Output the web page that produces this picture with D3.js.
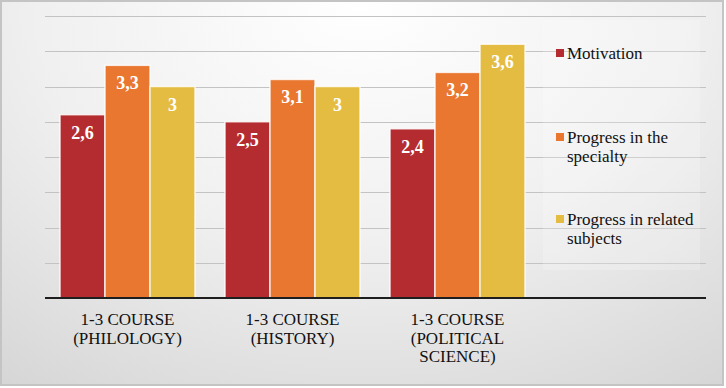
<!DOCTYPE html>
<html>
<head>
<meta charset="utf-8">
<script src="https://cdn.jsdelivr.net/npm/d3@7"></script>
<style>
  html, body { margin: 0; padding: 0; background: #fff; }
  svg { display: block; }
</style>
</head>
<body>
<div class="BarChart"></div>
<script>
// chart data
const categories = [
  ["1-3 COURSE", "(PHILOLOGY)"],
  ["1-3 COURSE", "(HISTORY)"],
  ["1-3 COURSE", "(POLITICAL", "SCIENCE)"]
];
const seriesNames = ["Motivation", "Progress in the specialty", "Progress in related subjects"];
const legendLines = [["Motivation"], ["Progress in the", "specialty"], ["Progress in related", "subjects"]];
const motivation = [2.6, 2.5, 2.4];
const specialty = [3.3, 3.1, 3.2];
const related = [3.0, 3.0, 3.6];
const valueLabels = [["2,6", "2,5", "2,4"], ["3,3", "3,1", "3,2"], ["3", "3", "3,6"]];
const gridTicks = [0.5, 1, 1.5, 2, 2.5, 3, 3.5, 4];
const colors = ["#b52c30", "#e9772f", "#e5bc42"];

const serif = "'Liberation Serif', 'Times New Roman', Times, 'DejaVu Serif', serif";

function setupSvg() {
  const width = 726, height = 388;
  const svg = d3.select(".BarChart")
    .append("svg")
    .attr("width", width)
    .attr("height", height)
    .attr("font-family", serif);

  const defs = svg.append("defs");
  const grad = defs.append("radialGradient")
    .attr("id", "bg")
    .attr("cx", "50%").attr("cy", "0%")
    .attr("r", "90%")
    .attr("gradientTransform", "translate(0.5,0) scale(1,1.4) translate(-0.5,0)");
  grad.append("stop").attr("offset", "0%").attr("stop-color", "#ffffff");
  grad.append("stop").attr("offset", "50%").attr("stop-color", "#f0f0f0");
  grad.append("stop").attr("offset", "100%").attr("stop-color", "#d4d4d4");

  svg.append("rect")
    .attr("x", 1).attr("y", 1)
    .attr("width", 722).attr("height", 384)
    .attr("fill", "url(#bg)")
    .attr("stroke", "#c4c4c4")
    .attr("stroke-width", 2);

  return { svg, width, height };
}

function setupScales() {
  const plot = { left: 45, right: 706, top: 16, bottom: 298 };
  const x0 = d3.scaleBand()
    .domain(d3.range(categories.length))
    .range([plot.left, plot.left + 165 * 3])
    .paddingInner(30 / 165)
    .paddingOuter(15 / 165);
  const x1 = d3.scaleBand()
    .domain(d3.range(seriesNames.length))
    .range([0, x0.bandwidth()]);
  const y = d3.scaleLinear()
    .domain([0, 4])
    .range([plot.bottom, plot.top]);
  return { plot, x0, x1, y };
}

function drawGrid(svg, plot, y) {
  svg.append("g")
    .selectAll("line")
    .data(gridTicks)
    .join("line")
    .attr("x1", plot.left).attr("x2", plot.right)
    .attr("y1", d => Math.round(y(d)) + 0.5)
    .attr("y2", d => Math.round(y(d)) + 0.5)
    .attr("stroke", "#c3c3c3")
    .attr("stroke-width", 1.2);
}

function drawLegendBox(svg) {
  svg.append("rect")
    .attr("x", 543).attr("y", 20)
    .attr("width", 157).attr("height", 250)
    .attr("fill", "#ffffff")
    .attr("opacity", 0.2);
}

function drawBars(svg, x0, x1, y) {
  const series = [motivation, specialty, related];
  const groups = svg.append("g")
    .selectAll("g")
    .data(categories)
    .join("g")
    .attr("transform", (d, i) => `translate(${x0(i)},0)`);

  const cells = (d, i) => series.map((s, j) => ({ j, v: s[i], label: valueLabels[j][i] }));

  groups.selectAll("rect")
    .data(cells)
    .join("rect")
    .attr("x", d => x1(d.j))
    .attr("y", d => y(d.v))
    .attr("width", x1.bandwidth())
    .attr("height", d => y(0) - y(d.v))
    .attr("fill", d => colors[d.j])
    .attr("stroke", "#ffffff")
    .attr("stroke-opacity", 0.8)
    .attr("stroke-width", 1.5);

  groups.selectAll("text.value")
    .data(cells)
    .join("text")
    .attr("class", "value")
    .attr("x", d => x1(d.j) + x1.bandwidth() / 2)
    .attr("y", d => y(d.v) + 24)
    .attr("text-anchor", "middle")
    .attr("fill", "#ffffff")
    .attr("font-weight", "bold")
    .attr("font-size", "18px")
    .text(d => d.label);
}

function drawAxis(svg, plot, x0) {
  svg.append("line")
    .attr("x1", plot.left).attr("x2", plot.right)
    .attr("y1", plot.bottom).attr("y2", plot.bottom)
    .attr("stroke", "#1e1e1e")
    .attr("stroke-width", 2);

  const labels = svg.append("g")
    .selectAll("text")
    .data(categories)
    .join("text")
    .attr("text-anchor", "middle")
    .attr("font-size", "17px")
    .attr("fill", "#111");

  labels.selectAll("tspan")
    .data((d, i) => d.map(line => ({ line, i })))
    .join("tspan")
    .attr("x", d => x0(d.i) + x0.bandwidth() / 2)
    .attr("y", (d, k) => 325 + k * 18.5)
    .text(d => d.line);
}

function drawLegend(svg) {
  const tops = [53, 137, 219];
  const items = svg.append("g")
    .selectAll("g")
    .data(seriesNames)
    .join("g")
    .attr("transform", (d, i) => `translate(556,${tops[i]})`);

  items.append("rect")
    .attr("x", 0).attr("y", -4)
    .attr("width", 8).attr("height", 8)
    .attr("fill", (d, i) => colors[i]);

  items.append("text")
    .attr("font-size", "17px")
    .attr("fill", "#111")
    .selectAll("tspan")
    .data((d, i) => legendLines[i])
    .join("tspan")
    .attr("x", 11)
    .attr("y", (d, k) => 6 + k * 18.5)
    .text(d => d);
}

function createBarChart() {
  const { svg } = setupSvg();
  const { plot, x0, x1, y } = setupScales();
  drawGrid(svg, plot, y);
  drawLegendBox(svg);
  drawBars(svg, x0, x1, y);
  drawAxis(svg, plot, x0);
  drawLegend(svg);
}

createBarChart();
</script>
</body>
</html>
